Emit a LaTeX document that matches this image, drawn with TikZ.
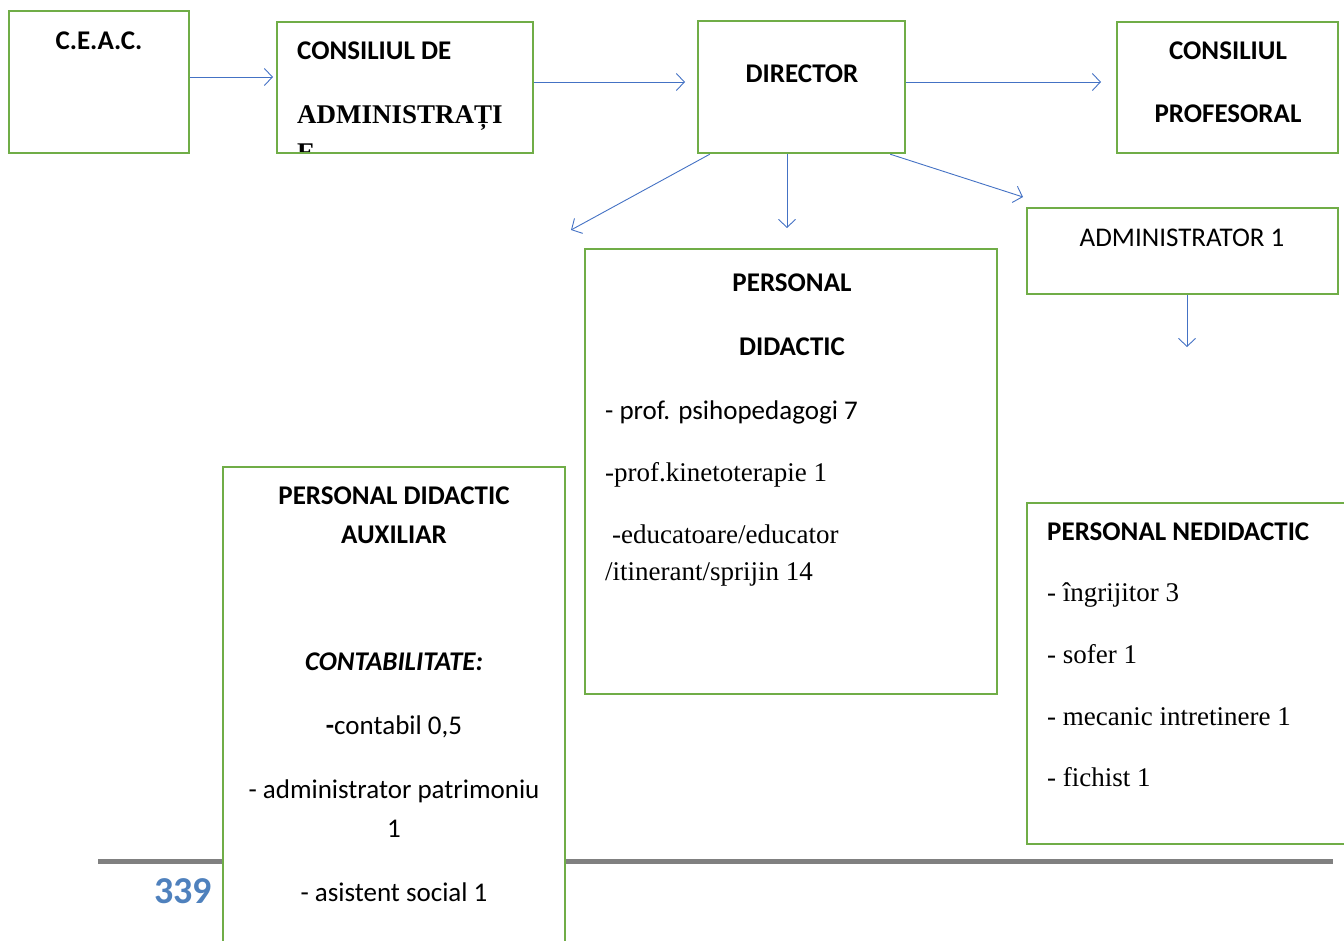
\documentclass[tikz,border=0pt]{standalone}
\usepackage{fontspec}
\setmainfont{Carlito}
\newfontfamily\tnr{Liberation Serif}
\usetikzlibrary{arrows.meta,positioning}
\definecolor{boxgreen}{HTML}{70AD47}
\definecolor{arrblue}{HTML}{4472C4}
\definecolor{numblue}{HTML}{4F81BD}
\definecolor{rulegray}{HTML}{808080}

\begin{document}
\begin{tikzpicture}[x=1pt, y=-1pt,
		box/.style={rectangle,draw=boxgreen,line width=2.4pt,fill=white,inner sep=0pt},
		arr/.style={draw=arrblue,line width=0.9pt,-{Straight Barb[length=8pt,width=17pt]}},
		txt/.style={inner sep=0pt,font=\fontsize{27}{32}\selectfont},
		ttl/.style={txt,font=\fontsize{27}{32}\selectfont\bfseries}]
		\useasboundingbox (0,0) rectangle (1344,940);
		\clip (0,0) rectangle (1344,940);

		%––––– page rule –––––
		\draw[rulegray, line width=5pt] (98,861) -- (1333,861);
		\node[anchor=base east,inner sep=0pt,text=numblue,font=\fontsize{38}{44}\selectfont\bfseries] (pnum) at (212,903) {339};

		%––––– top row –––––
		\node[box, minimum width=180, minimum height=142] (ceac) at (99,82) {};
		\node[ttl, anchor=base] (ceact) at (99,49) {C.E.A.C.};

		\node[box, minimum width=256, minimum height=131] (cda) at (405,87.5) {};
		\node[ttl, anchor=base west] (cdat1) at (297,59) {CONSILIUL DE};
		\node[txt, anchor=base west, font=\fontsize{27}{32}\selectfont\tnr\bfseries] (cdat2) at (297,123) {ADMINISTRAȚI};
		\begin{scope}
			\clip ([yshift=-2]cda.north west) rectangle ([yshift=3]cda.south east);
			\node[txt, anchor=base west, font=\fontsize{27}{32}\selectfont\tnr\bfseries] (cdat3) at (297,161) {E};
		\end{scope}

		\node[box, minimum width=207, minimum height=132] (dir) at (801.5,87) {};
		\node[ttl, anchor=base] (dirt) at (802,82) {DIRECTOR};

		\node[box, minimum width=221, minimum height=131] (cp) at (1227.5,87.5) {};
		\node[ttl, anchor=base] (cpt1) at (1228,59) {CONSILIUL};
		\node[ttl, anchor=base] (cpt2) at (1228,122) {PROFESORAL};

		\coordinate (t1) at (273,77);
		\draw[arr] (ceac.east |- t1) -- (t1);
		\coordinate (t2) at (685,82);
		\draw[arr] (cda.east |- t2) -- (t2);
		\coordinate (t3) at (1101,82);
		\draw[arr] (dir.east |- t3) -- (t3);

		%––––– under director –––––
		\coordinate (t4) at (571,230);
		\draw[arr] ([xshift=13]dir.south west) -- (t4);
		\coordinate (t5) at (787,228);
		\draw[arr] (dir.south -| t5) -- (t5);
		\coordinate (t6) at (1023,197);
		\draw[arr] ([xshift=-16]dir.south east) -- (t6);

		\node[box, minimum width=311, minimum height=86] (adm) at (1182.5,251) {};
		\node[txt, anchor=base] (admt) at (1182,246) {ADMINISTRATOR 1};
		\coordinate (t7) at (1187,347);
		\draw[arr] (adm.south -| t7) -- (t7);

		%––––– personal didactic –––––
		\node[box, minimum width=412, minimum height=445] (pd) at (791,471.5) {};
		\node[ttl, anchor=base] (pdt1) at (792,291) {PERSONAL};
		\node[ttl, anchor=base] (pdt2) at (792,355) {DIDACTIC};
		\node[txt, anchor=base west] (pdl1) at (605,419) {- prof. psihopedagogi 7};
		\node[txt, anchor=base west, font=\fontsize{27}{32}\selectfont\tnr] (pdl2) at (605,481) {-prof.kinetoterapie 1};
		\node[txt, anchor=base west, font=\fontsize{27}{32}\selectfont\tnr] (pdl3) at (612,543) {-educatoare/educator};
		\node[txt, anchor=base west, font=\fontsize{27}{32}\selectfont\tnr] (pdl4) at (605,580) {/itinerant/sprijin 14};

		%––––– personal didactic auxiliar –––––
		\node[box, minimum width=342, minimum height=533] (pda) at (394,733.5) {};
		\node[ttl, anchor=base] (pdat1) at (394,504) {PERSONAL DIDACTIC};
		\node[ttl, anchor=base] (pdat2) at (394,543) {AUXILIAR};
		\node[txt, anchor=base, font=\fontsize{27}{32}\selectfont\bfseries\itshape] (pdat3) at (394,670) {CONTABILITATE:};
		\node[txt, anchor=base] (pdal1) at (394,734) {{\bfseries -}contabil 0,5};
		\node[txt, anchor=base] (pdal2) at (394,798) {- administrator patrimoniu};
		\node[txt, anchor=base] (pdal3) at (394,837) {1};
		\node[txt, anchor=base] (pdal4) at (394,901) {- asistent social 1};

		%––––– personal nedidactic –––––
		\node[box, minimum width=373, minimum height=341] (pn) at (1213.5,673.5) {};
		\node[ttl, anchor=base west] (pnt) at (1047,540) {PERSONAL NEDIDACTIC};
		\node[txt, anchor=base west, font=\fontsize{27}{32}\selectfont\tnr] (pnl1) at (1047,601) {- îngrijitor 3};
		\node[txt, anchor=base west, font=\fontsize{27}{32}\selectfont\tnr] (pnl2) at (1047,663) {- sofer 1};
		\node[txt, anchor=base west, font=\fontsize{27}{32}\selectfont\tnr] (pnl3) at (1047,725) {- mecanic intretinere 1};
		\node[txt, anchor=base west, font=\fontsize{27}{32}\selectfont\tnr] (pnl4) at (1047,786) {- fichist 1};
	\end{tikzpicture}
\end{document}
